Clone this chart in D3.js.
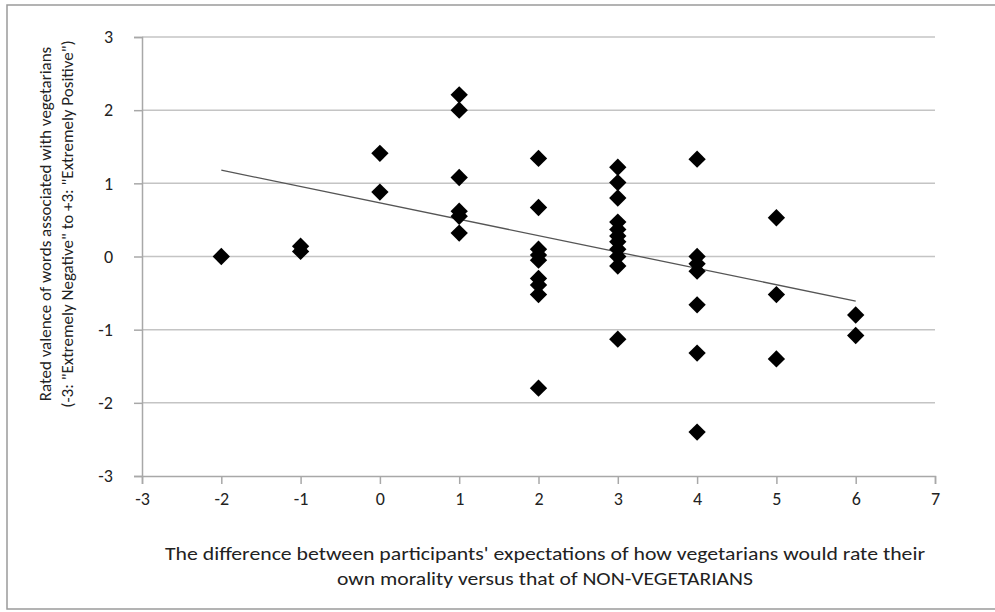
<!DOCTYPE html>
<html>
<head>
<meta charset="utf-8">
<script src="https://cdn.jsdelivr.net/npm/d3@7"></script>
<style>
    html, body { margin: 0; padding: 0; background: #fff; }
    svg text { font-family: Carlito, Calibri, Lato, sans-serif; fill: #222; }
</style>
</head>
<body>
<div id="chart"></div>
<script>
// values (one entry per participant)
const diffX = [
    -2,
    -1, -1,
    0, 0,
    1, 1, 1, 1, 1, 1,
    2, 2, 2, 2, 2, 2, 2, 2, 2,
    3, 3, 3, 3, 3, 3, 3, 3, 3, 3, 3,
    4, 4, 4, 4, 4, 4, 4,
    5, 5, 5,
    6, 6,
]
const valenceY = [
    0.0,
    0.14, 0.07,
    1.41, 0.88,
    2.21, 2.0, 1.08, 0.62, 0.55, 0.32,
    1.34, 0.67, 0.1, 0.02, -0.05, -0.3, -0.39, -0.52, -1.8,
    1.22, 1.01, 0.8, 0.47, 0.37, 0.28, 0.2, 0.1, 0.0, -0.13, -1.13,
    1.33, 0.0, -0.1, -0.2, -0.66, -1.32, -2.4,
    0.53, -0.52, -1.4,
    -0.8, -1.08,
]
// linear trend line, endpoints
const trendX = [-2, 6]
const trendY = [1.18, -0.61]

const xTicks = [-3, -2, -1, 0, 1, 2, 3, 4, 5, 6, 7]
const yTicks = [-3, -2, -1, 0, 1, 2, 3]

const yTitleLines = ['Rated valence of words associated with vegetarians', '(-3: "Extremely Negative" to +3:  "Extremely Positive")']
const xTitleLines = ["The difference between participants' expectations of how vegetarians would rate their", "own morality versus that of NON-VEGETARIANS"]

const width = 995
const height = 612
const plot = { left: 142, right: 935, top: 37, bottom: 476 }

const svg = d3.select("#chart").append("svg").attr("width", width).attr("height", height)

// outer frame
svg.append("rect")
    .attr("x", 7).attr("y", 5)
    .attr("width", 1000).attr("height", 604)
    .attr("fill", "none").attr("stroke", "#9a9a9a").attr("stroke-width", 1.5)

const x = d3.scaleLinear().domain([-3, 7]).range([plot.left, plot.right])
const y = d3.scaleLinear().domain([-3, 3]).range([plot.bottom, plot.top])

// horizontal gridlines
svg.append("g")
    .selectAll("line")
    .data(yTicks.filter((t) => t !== -3))
    .join("line")
    .attr("x1", plot.left).attr("x2", plot.right)
    .attr("y1", (d) => y(d)).attr("y2", (d) => y(d))
    .attr("stroke", "#c4c4c4").attr("stroke-width", 1.5)

// axes
const yAxis = svg.append("g")
    .attr("transform", `translate(${plot.left},0)`)
    .call(d3.axisLeft(y).tickValues(yTicks).tickSize(8).tickPadding(21).tickFormat(d3.format("d")))
const xAxis = svg.append("g")
    .attr("transform", `translate(0,${plot.bottom})`)
    .call(d3.axisBottom(x).tickValues(xTicks).tickSize(8).tickPadding(8).tickFormat(d3.format("d")))

;[yAxis, xAxis].forEach((ax) => {
    ax.select(".domain").attr("stroke", "#a8a8a8").attr("stroke-width", 1.5)
    ax.selectAll(".tick line").attr("stroke", "#a8a8a8").attr("stroke-width", 1.5)
    ax.selectAll(".tick text")
        .attr("fill", "#222")
        .style("font-size", "18px")
        .style("font-family", "Carlito, Calibri, Lato, sans-serif")
        .text((d) => String(d))
})

// trend line
svg.append("line")
    .attr("x1", x(trendX[0])).attr("y1", y(trendY[0]))
    .attr("x2", x(trendX[1])).attr("y2", y(trendY[1]))
    .attr("stroke", "#555").attr("stroke-width", 1.3)

// diamond markers
const diamond = d3.symbol().type(d3.symbolSquare).size(150)
svg.append("g")
    .selectAll("path")
    .data(diffX.map((dx, i) => [dx, valenceY[i]]))
    .join("path")
    .attr("d", diamond)
    .attr("transform", (d) => `translate(${x(d[0])},${y(d[1])}) rotate(45)`)
    .attr("fill", "#000")

// axis titles
svg.append("g")
    .selectAll("text")
    .data(yTitleLines)
    .join("text")
    .attr("transform", (d, i) => `translate(${51 + i * 22},224) rotate(-90)`)
    .attr("text-anchor", "middle")
    .style("font-size", "17px")
    .text((d) => d)

// the reference is stretched sideways, so fix the run lengths of the x title
const xTitleLengths = [760, 416]
svg.append("g")
    .selectAll("text")
    .data(xTitleLines)
    .join("text")
    .attr("x", 545)
    .attr("y", (d, i) => 560 + i * 25)
    .attr("text-anchor", "middle")
    .attr("textLength", (d, i) => xTitleLengths[i])
    .attr("lengthAdjust", "spacingAndGlyphs")
    .style("font-size", "19px")
    .text((d) => d)
</script>
</body>
</html>
